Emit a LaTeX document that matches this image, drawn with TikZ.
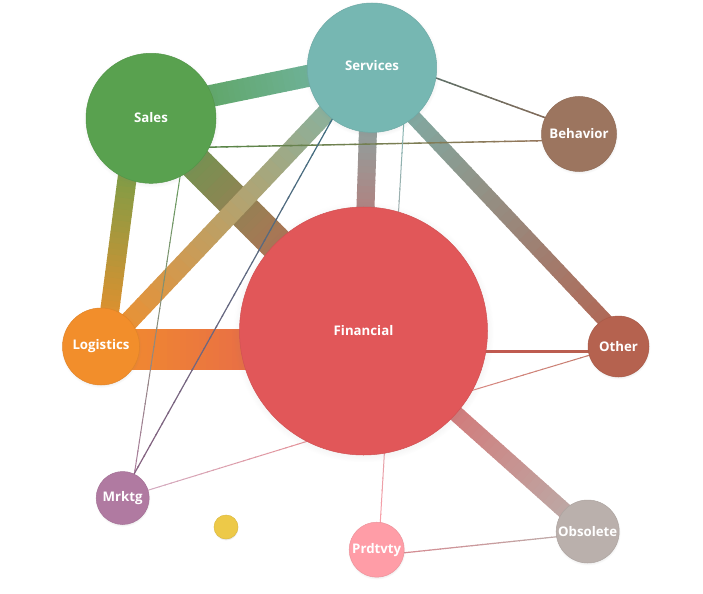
\documentclass[tikz,border=0pt]{standalone}
\usepackage{fontspec}
\setmainfont{Open Sans}
\usetikzlibrary{calc,shadows,fadings}
\definecolor{cSal}{HTML}{59A14F}
\definecolor{cSrv}{HTML}{76B7B2}
\definecolor{cBeh}{HTML}{9C755F}
\definecolor{cFin}{HTML}{E15759}
\definecolor{cLog}{HTML}{F28E2B}
\definecolor{cOth}{HTML}{B5624F}
\definecolor{cMkt}{HTML}{B07AA1}
\definecolor{cYel}{HTML}{EDC948}
\definecolor{cPrd}{HTML}{FF9DA7}
\definecolor{cObs}{HTML}{BAB0AC}
\definecolor{cBlu}{HTML}{3F8A9E}
\pgfdeclarelayer{bg}
\pgfsetlayers{bg,main}
% #1 start coordinate, #2 end coordinate, #3 width, #4 start colour, #5 end colour
\newcommand{\gradlink}[5]{%
  \foreach \k in {0,...,39}{%
    \pgfmathsetmacro{\pa}{\k/40}%
    \pgfmathsetmacro{\pb}{min(1,(\k+1.15)/40)}%
    \pgfmathtruncatemacro{\pc}{100-(\k+0.5)*2.5}%
    \draw[line width=#3, draw={#4!\pc!#5}] ($(#1)!\pa!(#2)$) -- ($(#1)!\pb!(#2)$);
  }%
}
\begin{document}
\begin{tikzpicture}[x=1bp,y=-1bp,
  bubble/.style={circle, inner sep=0pt, outer sep=0pt, draw=#1!93!black,
    line width=0.5bp, fill=#1, text=white,
    font=\bfseries\fontsize{13.3}{15}\selectfont,
    circular drop shadow={shadow xshift=0bp, shadow yshift=-1bp,
      shadow scale=1.05, opacity=0.2}}]
\useasboundingbox (0,0) rectangle (703,594);

\node[bubble=cSrv, minimum size=129.4bp] (srv) at (372,67.7) {\raisebox{4bp}{Services}};
\node[bubble=cSal, minimum size=130bp] (sal) at (151,118.3) {\raisebox{2bp}{Sales}};
\node[bubble=cBeh, minimum size=75bp] (beh) at (579,134) {Behavior};
\node[bubble=cFin, minimum size=248bp] (fin) at (363.5,331) {Financial};
\node[bubble=cLog, minimum size=77bp] (log) at (101,346.5) {Logistics};
\node[bubble=cOth, minimum size=61bp] (oth) at (618.5,346.5) {Other};
\node[bubble=cMkt, minimum size=53bp] (mkt) at (122.7,498) {Mrktg};
\node[bubble=cYel, minimum size=24bp] (yel) at (226,527) {};
\node[bubble=cPrd, minimum size=55bp] (prd) at (376.7,549.7) {Prdtvty};
\node[bubble=cObs, minimum size=63bp] (obs) at (587.7,531.5) {Obsolete};

% link end points
\coordinate (e1a) at ($(sal)+(0,-10)$);  \coordinate (e1b) at ($(srv)+(0,-5)$);
\coordinate (e2a) at ($(sal)+(-16,0)$);  \coordinate (e2b) at ($(log)+(4,0)$);
\coordinate (e4a) at ($(srv)+(-3,0)$);   \coordinate (e4b) at ($(log)+(4,0)$);
\coordinate (e5a) at ($(srv)+(-2,0)$);   \coordinate (e5b) at ($(fin)+(-2,0)$);
\coordinate (e6a) at ($(srv)+(-5,0)$);   \coordinate (e6b) at ($(oth)+(11,0)$);
\coordinate (e7a) at ($(log)+(0,3)$);    \coordinate (e7b) at ($(fin)+(0,18.5)$);
\coordinate (e8a) at ($(fin)+(0,20.5)$); \coordinate (e8b) at ($(oth)+(0,5)$);
\coordinate (t1a) at ($(srv)+(0,-13)$);  \coordinate (t1b) at ($(beh)+(0,-4)$);
\coordinate (t2a) at ($(sal)+(0,30)$);   \coordinate (t2b) at ($(beh)+(0,6)$);
\coordinate (t3a) at ($(sal)+(38,0)$);   \coordinate (t3b) at ($(mkt)+(8,0)$);
\coordinate (t4a) at ($(srv)+(-11,0)$);  \coordinate (t4b) at ($(mkt)+(-2,0)$);
\coordinate (t5a) at ($(srv)+(35,0)$);   \coordinate (t5b) at ($(prd)+(2,0)$);
\coordinate (t6b) at ($(fin)+(0,93)$);
\coordinate (t7a) at ($(fin)+(0,92)$);
\coordinate (t8a) at ($(prd)+(0,6)$);    \coordinate (t8b) at ($(obs)+(0,2)$);

\begin{pgfonlayer}{bg}
  % thick links
  \gradlink{e1a}{e1b}{22bp}{cSal}{cSrv}
  \gradlink{e2a}{e2b}{19bp}{cSal}{cLog}
  \gradlink{sal}{fin}{34bp}{cSal}{cFin}
  \gradlink{e4a}{e4b}{19bp}{cSrv}{cLog}
  \gradlink{e5a}{e5b}{18bp}{cSrv}{cFin}
  \gradlink{e6a}{e6b}{15bp}{cSrv}{cOth}
  \gradlink{e7a}{e7b}{41bp}{cLog}{cFin}
  \gradlink{e8a}{e8b}{2.5bp}{cFin!92!black}{cOth}
  \gradlink{fin}{obs}{16bp}{cFin}{cObs}
  % thin links
  \gradlink{t1a}{t1b}{1.5bp}{cSrv!70!black}{cBeh!90!black}
  \gradlink{t2a}{t2b}{1.4bp}{cSal!85!black}{cBeh}
  \gradlink{t3a}{t3b}{1bp}{cSal}{cMkt}
  \gradlink{t4a}{t4b}{1.2bp}{cBlu}{cMkt!80!black}
  \gradlink{t5a}{t5b}{1bp}{cSrv}{cPrd}
  \gradlink{mkt}{t6b}{1bp}{cMkt!85!white}{cFin!70!white}
  \gradlink{t7a}{oth}{1bp}{cFin!75!white}{cOth!85!white}
  \gradlink{t8a}{t8b}{1.2bp}{cPrd!85!black}{cObs}
\end{pgfonlayer}
\end{tikzpicture}
\end{document}
